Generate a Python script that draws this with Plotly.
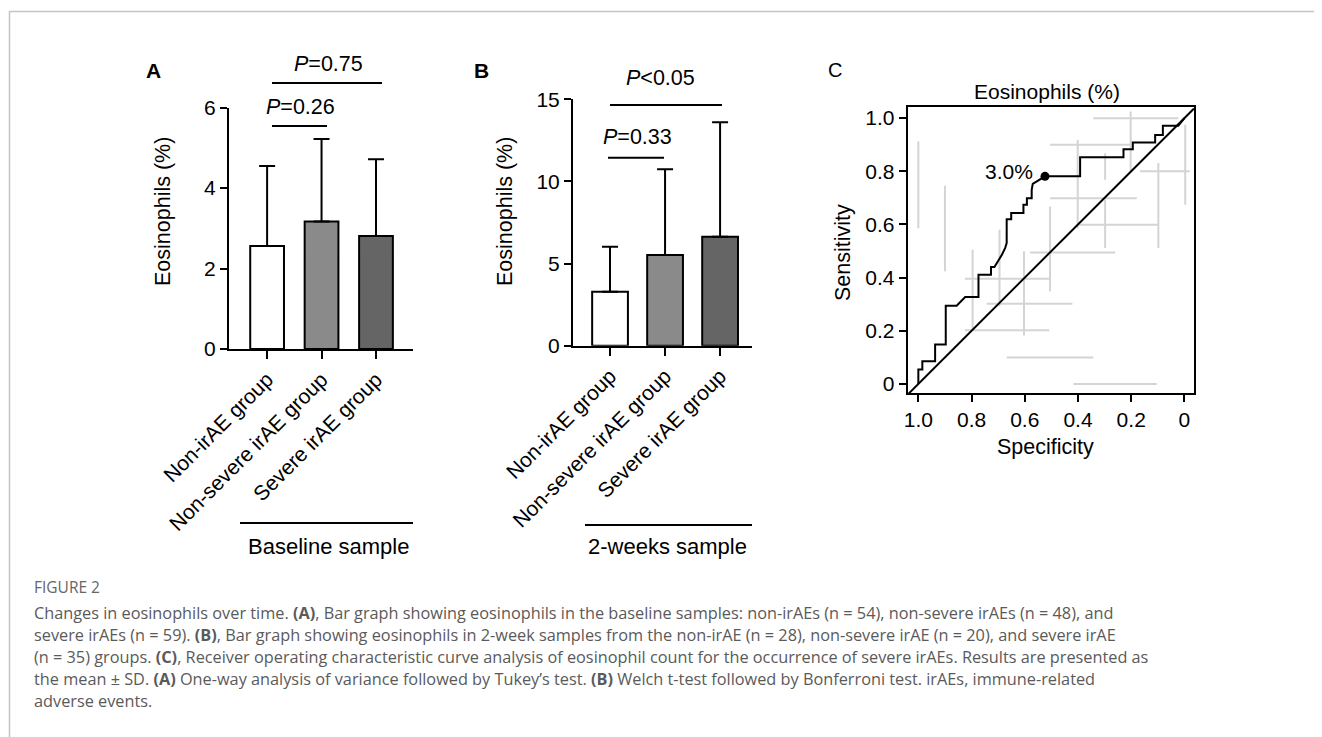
import plotly.graph_objects as go

# ---------------- data ----------------
groups = ["Non-irAE group", "Non-severe irAE group", "Severe irAE group"]
baseline_mean = [2.56, 3.17, 2.81]
baseline_sd = [1.99, 2.05, 1.91]
week2_mean = [3.29, 5.52, 6.63]
week2_sd = [2.74, 5.22, 6.97]
bar_colors = ["#ffffff", "#8a8a8a", "#656565"]

roc_spec = [1.0, 1.0, 0.985, 0.985, 0.937, 0.937, 0.897, 0.897, 0.856, 0.824, 0.774, 0.774,
            0.727, 0.727, 0.714, 0.700, 0.686, 0.674, 0.668, 0.668, 0.651, 0.651, 0.605, 0.605,
            0.592, 0.592, 0.574, 0.574, 0.570, 0.524, 0.392, 0.392, 0.229, 0.229, 0.194, 0.194,
            0.110, 0.110, 0.081, 0.081, 0.023, 0.0]
roc_sens = [0.0, 0.054, 0.054, 0.085, 0.085, 0.148, 0.148, 0.294, 0.294, 0.327, 0.327, 0.411,
            0.411, 0.44, 0.44, 0.461, 0.486, 0.511, 0.53, 0.62, 0.62, 0.643, 0.643, 0.674,
            0.674, 0.699, 0.699, 0.73, 0.753, 0.781, 0.781, 0.853, 0.853, 0.883, 0.883, 0.908,
            0.908, 0.937, 0.937, 0.971, 0.971, 1.0]
cutoff_spec = [0.524]
cutoff_sens = [0.781]
cutoff_label = ["3.0%"]

# faint gray background crosses seen in panel C (spec0, spec1, sens0, sens1)
gray_segments = [
    (1.0, 1.0, 0.912, 0.586), (0.9, 0.9, 0.746, 0.424), (0.342, 0.023, 1.0, 1.0),
    (0.202, 0.202, 1.025, 0.80), (0.505, 0.204, 0.9, 0.9), (0.401, 0.401, 0.918, 0.586),
    (0.298, 0.298, 0.868, 0.768), (0.167, -0.02, 0.8, 0.8), (0.098, 0.098, 0.831, 0.511),
    (-0.003, -0.003, 0.975, 0.674), (0.505, 0.179, 0.699, 0.699), (0.405, 0.098, 0.599, 0.599),
    (0.298, 0.298, 0.693, 0.511), (0.505, 0.505, 0.668, 0.348), (0.58, 0.26, 0.495, 0.495),
    (0.695, 0.695, 0.58, 0.292), (0.796, 0.796, 0.505, 0.202), (0.825, 0.505, 0.396, 0.396),
    (0.743, 0.421, 0.302, 0.302), (0.603, 0.603, 0.499, 0.182), (0.825, 0.508, 0.202, 0.202),
    (0.668, 0.342, 0.1, 0.1), (0.417, 0.104, 0.0, 0.0),
]

caption_lines = [
    "Changes in eosinophils over time. <b>(A)</b>, Bar graph showing eosinophils in the baseline samples: non-irAEs (n = 54), non-severe irAEs (n = 48), and",
    "severe irAEs (n = 59). <b>(B)</b>, Bar graph showing eosinophils in 2-week samples from the non-irAE (n = 28), non-severe irAE (n = 20), and severe irAE",
    "(n = 35) groups. <b>(C)</b>, Receiver operating characteristic curve analysis of eosinophil count for the occurrence of severe irAEs. Results are presented as",
    "the mean ± SD. <b>(A)</b> One-way analysis of variance followed by Tukey\u2019s test. <b>(B)</b> Welch t-test followed by Bonferroni test. irAEs, immune-related",
    "adverse events.",
]

# ---------------- layout helpers ----------------
W, H = 1322, 737
OFF = 8  # page body margin in the browser
def px(x):
    return (x - OFF) / W
def py(y):
    return 1 - (y - OFF) / H

FONT = "Arial, 'Liberation Sans', sans-serif"
CAPFONT = "'Open Sans', 'Noto Sans', sans-serif"
TICK = 21

fig = go.Figure()

# Panel A bars
fig.add_trace(go.Bar(
    x=groups, y=baseline_mean, width=0.62,
    marker=dict(color=bar_colors, line=dict(color="black", width=2)),
    error_y=dict(type="data", array=baseline_sd, arrayminus=[0] * 3, symmetric=False,
                 thickness=2, width=8, color="black"),
    xaxis="x", yaxis="y", showlegend=False))
# Panel B bars
fig.add_trace(go.Bar(
    x=groups, y=week2_mean, width=0.65,
    marker=dict(color=bar_colors, line=dict(color="black", width=2)),
    error_y=dict(type="data", array=week2_sd, arrayminus=[0] * 3, symmetric=False,
                 thickness=2, width=8, color="black"),
    xaxis="x2", yaxis="y2", showlegend=False))

# Panel C gray crosses
gx, gy = [], []
for s0, s1, t0, t1 in gray_segments:
    gx += [s0, s1, None]
    gy += [t0, t1, None]
fig.add_trace(go.Scatter(x=gx, y=gy, mode="lines", line=dict(color="#d4d4d4", width=2),
                         xaxis="x3", yaxis="y3", showlegend=False, hoverinfo="skip"))
# diagonal reference
fig.add_trace(go.Scatter(x=[1.04, -0.036], y=[-0.04, 1.036], mode="lines",
                         line=dict(color="black", width=2),
                         xaxis="x3", yaxis="y3", showlegend=False))
# ROC curve
fig.add_trace(go.Scatter(x=roc_spec, y=roc_sens, mode="lines",
                         line=dict(color="black", width=2),
                         xaxis="x3", yaxis="y3", showlegend=False))
fig.add_trace(go.Scatter(x=cutoff_spec, y=cutoff_sens, mode="markers",
                         marker=dict(color="black", size=9),
                         xaxis="x3", yaxis="y3", showlegend=False))

axis_common = dict(showgrid=False, zeroline=False, showline=True, linecolor="black",
                   linewidth=2, ticks="outside", tickwidth=2, tickcolor="black",
                   automargin=False,
                   tickfont=dict(family=FONT, size=TICK, color="black"))

fig.update_layout(
    width=W, height=H, autosize=False,
    margin=dict(l=0, r=0, t=0, b=0, pad=0, autoexpand=False),
    paper_bgcolor="white", plot_bgcolor="rgba(0,0,0,0)",
    font=dict(family=FONT, color="black"),
    xaxis=dict(axis_common, domain=[px(229), px(413)], range=[-0.70, 2.68], anchor="y",
               ticklen=8, tickangle=-45, type="category"),
    yaxis=dict(axis_common, domain=[py(349), py(107.7)], range=[0, 6], dtick=2, anchor="x",
               ticklen=7),
    xaxis2=dict(axis_common, domain=[px(573), px(752)], range=[-0.673, 2.58], anchor="y2",
                ticklen=8, tickangle=-45, type="category"),
    yaxis2=dict(axis_common, domain=[py(345.7), py(99.3)], range=[0, 15], dtick=5, anchor="x2",
                ticklen=7),
    xaxis3=dict(axis_common, domain=[px(907.7), px(1194)], range=[1.04, -0.036], anchor="y3",
                tickvals=[1.0, 0.8, 0.6, 0.4, 0.2, 0], ticktext=["1.0", "0.8", "0.6", "0.4", "0.2", "0"],
                ticklen=7, mirror=True),
    yaxis3=dict(axis_common, domain=[py(393), py(106.7)], range=[-0.034, 1.043], anchor="x3",
                tickvals=[0, 0.2, 0.4, 0.6, 0.8, 1.0], ticktext=["0", "0.2", "0.4", "0.6", "0.8", "1.0"],
                ticklen=7, mirror=True),
)

shapes = []
def hline(x0, x1, y, color="black", width=2):
    shapes.append(dict(type="line", xref="paper", yref="paper", x0=px(x0), x1=px(x1),
                       y0=py(y), y1=py(y), line=dict(color=color, width=width)))

# significance lines
hline(272, 327, 126)
hline(272, 382, 83)
hline(608, 664, 157.7)
hline(610, 722, 105)
# group-lines under the categories
hline(240, 413, 523)
hline(585, 752, 525)
# page frame
hline(9, 1330, 11.5, color="#c4c4c4", width=1.5)
shapes.append(dict(type="line", xref="paper", yref="paper", x0=px(9.5), x1=px(9.5),
                   y0=py(11.5), y1=py(745), line=dict(color="#c4c4c4", width=1.5)))
fig.update_layout(shapes=shapes)

ann = []
def text(x, y, s, size=21, color="black", xanchor="center", angle=0, family=FONT):
    ann.append(dict(x=px(x), y=py(y), xref="paper", yref="paper", text=s, showarrow=False,
                    xanchor=xanchor, yanchor="middle", textangle=angle,
                    font=dict(family=family, size=size, color=color)))

# cutoff label next to the marker
ann.append(dict(x=cutoff_spec[0], y=cutoff_sens[0], xref="x3", yref="y3", text=cutoff_label[0],
                showarrow=False, xanchor="right", yanchor="middle", xshift=-10, yshift=5,
                font=dict(family=FONT, size=21, color="black")))

# panel letters
text(153, 71, "<b>A</b>", size=21)
text(481, 71, "<b>B</b>", size=21)
text(835, 70, "C", size=20)
# p-values
text(300, 107, "<i>P</i>=0.26", size=21.5)
text(328, 64, "<i>P</i>=0.75", size=21.5)
text(637, 137, "<i>P</i>=0.33", size=21.5)
text(660, 78, "<i>P</i><0.05", size=21.5)
# axis titles
text(163, 212, "Eosinophils (%)", size=21.5, angle=-90)
text(505, 212, "Eosinophils (%)", size=21.5, angle=-90)
text(843, 252, "Sensitivity", size=21.5, angle=-90)
text(1045, 447, "Specificity", size=21.5)
text(1047, 91, "Eosinophils (%)", size=21)
# group titles
text(328, 546, "Baseline sample", size=22)
text(667, 546, "2-weeks sample", size=22)
# caption
text(32, 587, "FIGURE 2", size=15.5, color="#666666", xanchor="left", family=CAPFONT)
cap_y = [612.7, 634.5, 656.5, 679, 701]
for yy, line in zip(cap_y, caption_lines):
    text(32, yy, line, size=16.3, color="#5a5a5a", xanchor="left", family=CAPFONT)
fig.update_layout(annotations=ann)

fig.write_html("out.html")
